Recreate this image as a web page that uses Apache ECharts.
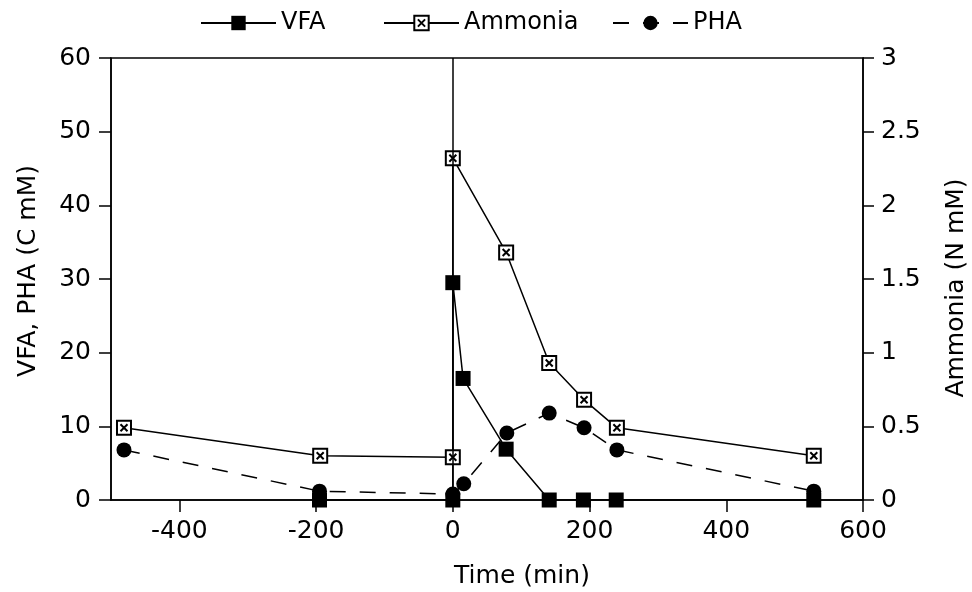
<!DOCTYPE html>
<html>
<head>
<meta charset="utf-8">
<script src="https://cdn.jsdelivr.net/npm/echarts@6/dist/echarts.min.js"></script>
<style>html,body{margin:0;padding:0;background:#fff}#c{width:972px;height:592px}</style>
</head>
<body>
<div id="c"></div>
<script>
// Data
const vfaTime = [-195, 0, 0, 15, 78, 141, 191, 239, 528];
const vfaValue = [0, 0, 29.5, 16.5, 6.9, 0, 0, 0, 0];
const ammoniaTime = [-481, -194, 0, 0, 78, 141, 192, 240, 528];
const ammoniaValue = [0.49, 0.30, 0.29, 2.32, 1.68, 0.93, 0.68, 0.49, 0.30];
const phaTime = [-481, -195, 0, 16, 79, 141, 192, 240, 528];
const phaValue = [6.8, 1.2, 0.8, 2.2, 9.1, 11.8, 9.8, 6.8, 1.2];
const xTicks = [-400, -200, 0, 200, 400, 600];
const seriesNames = ['VFA', 'Ammonia', 'PHA'];

const zip = (a, b) => a.map((v, i) => [v, b[i]]);
const FONT = 'DejaVu Sans';
const boxX = 'path://M0,0 L10,0 L10,10 L0,10 Z M2.5,2.5 L7.5,7.5 M7.5,2.5 L2.5,7.5';

const legendBase = {
  top: 6, itemWidth: 75, itemHeight: 18, itemGap: 0,
  textStyle: { fontFamily: FONT, fontSize: 24, color: '#000' }
};
const legendLefts = [195, 378, 607];

const chart = echarts.init(document.getElementById('c'));
chart.setOption({
  animation: false,
  backgroundColor: '#fff',
  textStyle: { fontFamily: FONT, color: '#000' },
  legend: seriesNames.map((n, i) => Object.assign({}, legendBase, { left: legendLefts[i], data: [n] })),
  grid: { left: 111, right: 109, top: 58, bottom: 92, outerBoundsMode: 'none', containLabel: false, show: true, borderColor: '#000', borderWidth: 1.5, backgroundColor: 'transparent' },
  xAxis: {
    type: 'value', min: -500, max: 600, interval: 100,
    name: 'Time (min)', nameLocation: 'middle', nameGap: 64,
    nameTextStyle: { fontFamily: FONT, fontSize: 25, color: '#000', padding: [0, 0, 0, 70] },
    axisLine: { onZero: false, lineStyle: { color: '#000', width: 1.5 } },
    axisTick: { show: true, length: 12, customValues: xTicks, lineStyle: { color: '#000', width: 1.5 } },
    axisLabel: { customValues: xTicks, fontFamily: FONT, fontSize: 25, color: '#000', margin: 19 },
    splitLine: { show: false }
  },
  yAxis: [{
    type: 'value', min: 0, max: 60, interval: 10, position: 'left',
    name: 'VFA, PHA (C mM)', nameLocation: 'middle', nameGap: 70, nameRotate: 90,
    nameTextStyle: { fontFamily: FONT, fontSize: 25, color: '#000', padding: [0, 0, 0, 16] },
    axisLine: { show: true, onZero: false, lineStyle: { color: '#000', width: 1.5 } },
    axisTick: { show: true, length: 12, lineStyle: { color: '#000', width: 1.5 } },
    axisLabel: { fontFamily: FONT, fontSize: 25, color: '#000', margin: 20 },
    splitLine: { show: false }
  }, {
    type: 'value', min: 0, max: 3, interval: 0.5, position: 'right',
    name: 'Ammonia (N mM)', nameLocation: 'middle', nameGap: 81, nameRotate: 90,
    nameTextStyle: { fontFamily: FONT, fontSize: 25, color: '#000', padding: [0, 18, 0, 0] },
    axisLine: { show: true, onZero: false, lineStyle: { color: '#000', width: 1.5 } },
    axisTick: { show: true, length: 11, lineStyle: { color: '#000', width: 1.5 } },
    axisLabel: { fontFamily: FONT, fontSize: 25, color: '#000', margin: 18 },
    splitLine: { show: false }
  }],
  series: [{
    name: seriesNames[0], type: 'line', yAxisIndex: 0,
    data: zip(vfaTime, vfaValue),
    symbol: 'rect', symbolSize: 15,
    lineStyle: { color: '#000', width: 1.5 },
    itemStyle: { color: '#000' },
    markLine: {
      silent: true, symbol: ['none', 'none'], label: { show: false },
      lineStyle: { color: '#000', width: 1.5, type: 'solid' },
      data: [{ xAxis: 0 }]
    }
  }, {
    name: seriesNames[1], type: 'line', yAxisIndex: 1,
    data: zip(ammoniaTime, ammoniaValue),
    symbol: boxX, symbolSize: 14,
    lineStyle: { color: '#000', width: 1.5 },
    itemStyle: { color: '#fff', borderColor: '#000', borderWidth: 2 }
  }, {
    name: seriesNames[2], type: 'line', yAxisIndex: 0,
    data: zip(phaTime, phaValue),
    symbol: 'circle', symbolSize: 15,
    lineStyle: { color: '#000', width: 1.5, type: [16, 14] },
    itemStyle: { color: '#000' }
  }]
});
</script>
</body>
</html>
